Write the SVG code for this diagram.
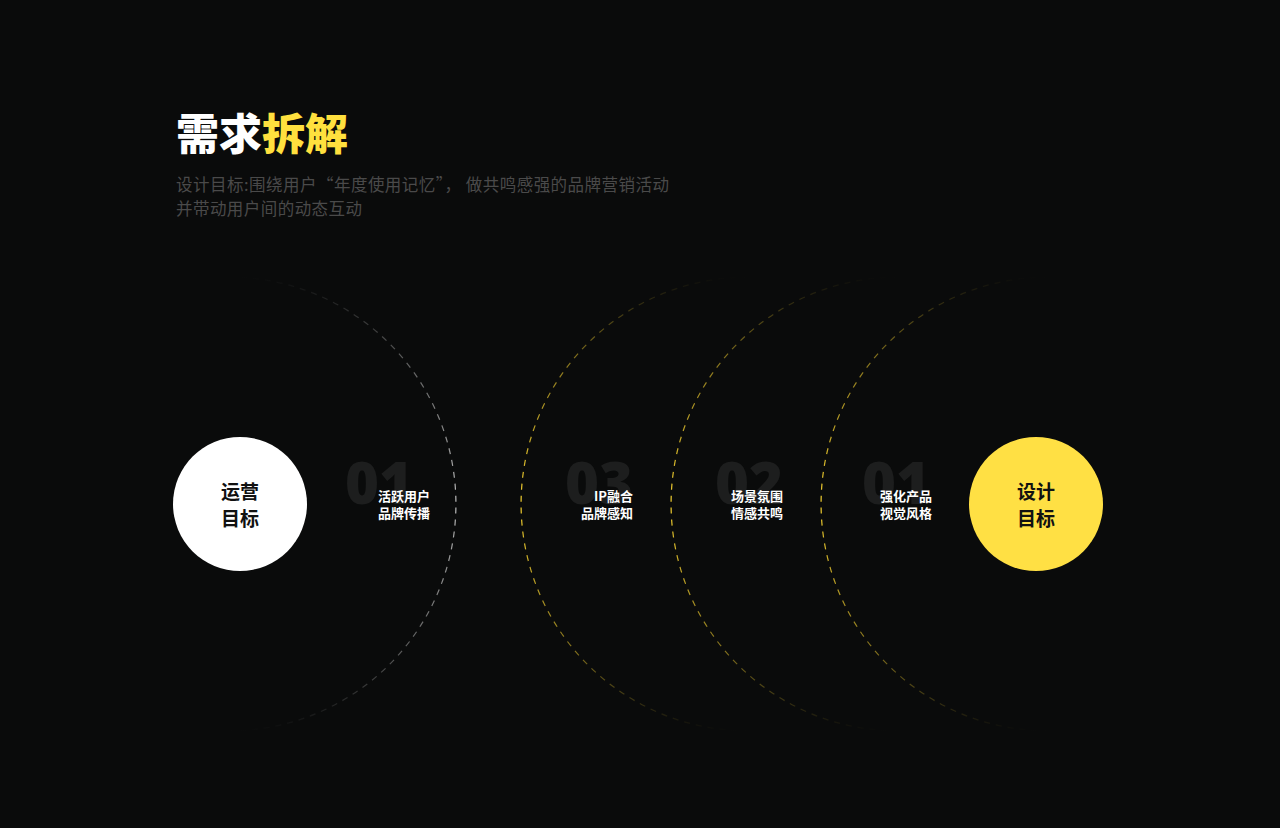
<svg xmlns="http://www.w3.org/2000/svg" width="1280" height="828" viewBox="0 0 1280 828">
<defs>
<style>
.title{font-family:"Noto Sans CJK SC","Noto Sans",sans-serif;font-weight:900;font-size:43px}
.sub{font-family:"Noto Sans CJK SC","Noto Sans",sans-serif;font-size:16.5px;fill:#4a4a4a}
.num{font-family:"Open Sans","Noto Sans",sans-serif;font-weight:800;font-size:58px;fill:#1d1e1e;text-anchor:end}
.lbl{font-family:"Noto Sans CJK SC","Noto Sans",sans-serif;font-weight:700;font-size:13px;fill:#ffffff}
.ctext{font-family:"Noto Sans CJK SC","Noto Sans",sans-serif;font-weight:700;font-size:19px;fill:#111111;text-anchor:middle}
.arc{fill:none;stroke-width:1.2;stroke-dasharray:6 6}
</style>
<linearGradient id="gGrey" gradientUnits="userSpaceOnUse" x1="0" y1="277" x2="0" y2="731">
<stop offset="0" stop-color="#9a9a9a" stop-opacity="0"/>
<stop offset="0.18" stop-color="#a0a0a0" stop-opacity="0.55"/>
<stop offset="0.5" stop-color="#bdbdbd" stop-opacity="1"/>
<stop offset="0.82" stop-color="#a0a0a0" stop-opacity="0.55"/>
<stop offset="1" stop-color="#9a9a9a" stop-opacity="0"/>
</linearGradient>
<linearGradient id="gYel" gradientUnits="userSpaceOnUse" x1="0" y1="277" x2="0" y2="731">
<stop offset="0" stop-color="#e8c62c" stop-opacity="0"/>
<stop offset="0.18" stop-color="#e8c62c" stop-opacity="0.55"/>
<stop offset="0.5" stop-color="#f5d12f" stop-opacity="1"/>
<stop offset="0.82" stop-color="#e8c62c" stop-opacity="0.55"/>
<stop offset="1" stop-color="#e8c62c" stop-opacity="0"/>
</linearGradient>
</defs>
<rect width="1280" height="828" fill="#0a0b0b"/>

<g id="header">
<text x="176" y="150" class="title"><tspan fill="#ffffff">需求</tspan><tspan fill="#ffe03e">拆解</tspan></text>
<text x="176" y="191" class="sub" textLength="493" lengthAdjust="spacing">设计目标:围绕用户“年度使用记忆”， 做共鸣感强的品牌营销活动</text>
<text x="176" y="215" class="sub" textLength="186" lengthAdjust="spacing">并带动用户间的动态互动</text>
</g>

<g id="connectors">
<path class="arc" stroke="url(#gGrey)" d="M229 277 A227 227 0 0 1 229 731"/>
<path class="arc" stroke="url(#gYel)" d="M748 277 A227 227 0 0 0 748 731"/>
<path class="arc" stroke="url(#gYel)" d="M898 277 A227 227 0 0 0 898 731"/>
<path class="arc" stroke="url(#gYel)" d="M1048 277 A227 227 0 0 0 1048 731"/>
</g>

<g id="node-ops">
<circle cx="240" cy="504" r="67" fill="#ffffff"/>
<text x="240" y="499" class="ctext">运营</text>
<text x="240" y="526" class="ctext">目标</text>
</g>

<g id="node-ops-01">
<text x="413" y="504" class="num">01</text>
<text x="378" y="501" class="lbl">活跃用户</text>
<text x="378" y="518" class="lbl">品牌传播</text>
</g>

<g id="node-design-03">
<text x="633" y="504" class="num">03</text>
<text x="633" y="501" class="lbl" text-anchor="end">IP融合</text>
<text x="633" y="518" class="lbl" text-anchor="end">品牌感知</text>
</g>

<g id="node-design-02">
<text x="783" y="504" class="num">02</text>
<text x="783" y="501" class="lbl" text-anchor="end">场景氛围</text>
<text x="783" y="518" class="lbl" text-anchor="end">情感共鸣</text>
</g>

<g id="node-design-01">
<text x="930" y="504" class="num">01</text>
<text x="932" y="501" class="lbl" text-anchor="end">强化产品</text>
<text x="932" y="518" class="lbl" text-anchor="end">视觉风格</text>
</g>

<g id="node-design">
<circle cx="1036" cy="504" r="67" fill="#ffe044"/>
<text x="1036" y="499" class="ctext">设计</text>
<text x="1036" y="526" class="ctext">目标</text>
</g>
</svg>
